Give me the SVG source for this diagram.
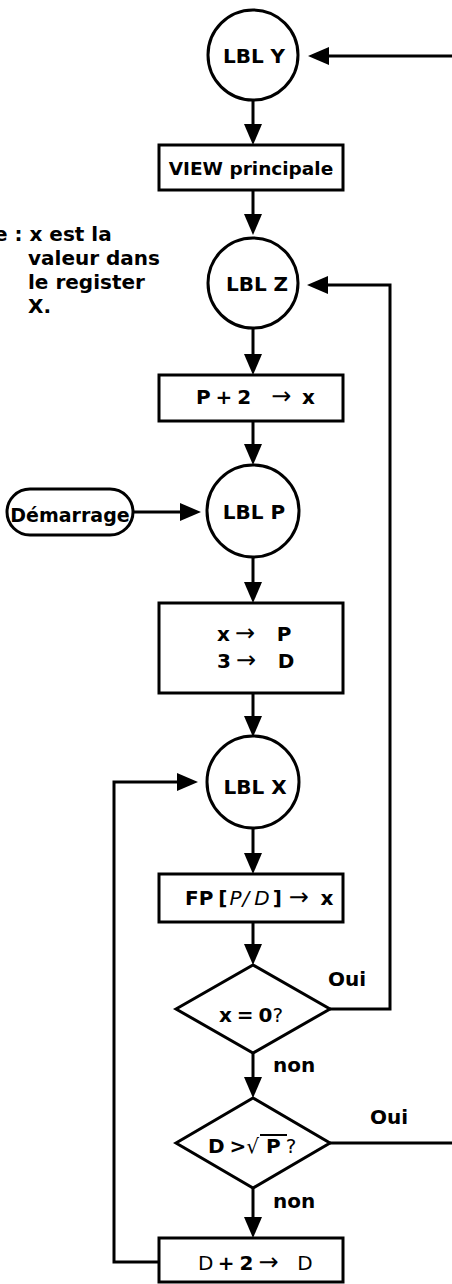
<svg xmlns="http://www.w3.org/2000/svg" width="452" height="1284" viewBox="0 0 452 1284">
<style>
.s{fill:#fff;stroke:#000;stroke-width:3}
.c{fill:none;stroke:#000;stroke-width:3}
text{font-family:"DejaVu Sans",sans-serif;font-weight:bold;font-size:20px;fill:#000}
.lbl{text-anchor:middle}
.mid{text-anchor:middle}
.ws{word-spacing:-2px}
.n{font-weight:normal}
.ar{font-weight:normal;font-size:24px}
.it{font-style:italic;font-weight:normal}
</style>
<defs>
<marker id="ah" markerUnits="userSpaceOnUse" markerWidth="21" markerHeight="18" refX="8" refY="9" orient="auto">
<path d="M0,0 L21,9 L0,18 z" fill="#000"/>
</marker>
</defs>
<rect width="452" height="1284" fill="#fff"/>
<g id="note">
<text><tspan x="-6" y="241">e : x est la</tspan><tspan x="28" y="265">valeur dans</tspan><tspan x="28" y="289">le register</tspan><tspan x="28" y="313">X.</tspan></text>
</g>
<g id="connectors">
<path class="c" d="M452,56 H321" marker-end="url(#ah)"/>
<path class="c" d="M253,100 V132" marker-end="url(#ah)"/>
<path class="c" d="M253,190 V222" marker-end="url(#ah)"/>
<path class="c" d="M253,328 V362" marker-end="url(#ah)"/>
<path class="c" d="M253,421 V452" marker-end="url(#ah)"/>
<path class="c" d="M133,512 H188" marker-end="url(#ah)"/>
<path class="c" d="M253,557 V590" marker-end="url(#ah)"/>
<path class="c" d="M253,693 V724" marker-end="url(#ah)"/>
<path class="c" d="M253,828 V861" marker-end="url(#ah)"/>
<path class="c" d="M253,922 V952" marker-end="url(#ah)"/>
<path class="c" d="M253,1053 V1085" marker-end="url(#ah)"/>
<path class="c" d="M253,1188 V1225" marker-end="url(#ah)"/>
<path class="c" d="M159,1262 H114 V782 H185" marker-end="url(#ah)"/>
<path class="c" d="M330,1009 H390 V285 H320" marker-end="url(#ah)"/>
<path class="c" d="M330,1143 H452"/>
<text x="328" y="986">Oui</text>
<text x="273" y="1072">non</text>
<text x="370" y="1124">Oui</text>
<text x="273" y="1208">non</text>
</g>
<g id="lblY">
<circle class="s" cx="253" cy="55" r="45"/>
<text class="lbl" x="254" y="63">LBL Y</text>
</g>
<g id="view">
<rect class="s" x="159" y="145" width="184" height="45"/>
<text class="mid" x="251" y="175" style="font-size:18.5px">VIEW principale</text>
</g>
<g id="lblZ">
<circle class="s" cx="253" cy="283" r="45"/>
<text class="lbl" x="257" y="291">LBL Z</text>
</g>
<g id="p2x">
<rect class="s" x="159" y="375" width="184" height="46"/>
<text class="ws" x="196" y="404">P + 2 <tspan class="ar" dx="15">→ </tspan><tspan dx="5">x</tspan></text>
</g>
<g id="demarrage">
<rect class="s" x="7" y="489" width="126" height="46" rx="23"/>
<text class="mid" x="70" y="522" style="font-size:19px">Démarrage</text>
</g>
<g id="lblP">
<circle class="s" cx="253" cy="511" r="46"/>
<text class="lbl" x="254" y="519">LBL P</text>
</g>
<g id="assign">
<rect class="s" x="159" y="603" width="184" height="90"/>
<text class="ws" x="217" y="641">x <tspan class="ar">→ </tspan><tspan dx="16">P</tspan></text>
<text class="ws" x="217" y="668">3 <tspan class="ar">→ </tspan><tspan dx="16">D</tspan></text>
</g>
<g id="lblX">
<circle class="s" cx="253" cy="782" r="46"/>
<text class="lbl" x="255" y="794">LBL X</text>
</g>
<g id="fp">
<rect class="s" x="159" y="874" width="184" height="48"/>
<text class="ws" x="185" y="905">FP [<tspan class="it" dx="2">P</tspan><tspan class="it" dx="1">/</tspan><tspan class="it" dx="5">D</tspan><tspan dx="3">] </tspan><tspan class="ar" dx="2">→ </tspan><tspan dx="6">x</tspan></text>
</g>
<g id="dec1">
<polygon class="s" points="176,1009 253,965 330,1009 253,1053"/>
<text class="ws" x="219" y="1022">x = 0<tspan class="n">?</tspan></text>
</g>
<g id="dec2">
<polygon class="s" points="176,1143 253,1098 330,1143 253,1188"/>
<text class="ws" x="208" y="1153">D &gt;<tspan class="n">√</tspan><tspan dx="7">P </tspan><tspan class="n">?</tspan></text>
<line x1="260" y1="1135" x2="287" y2="1135" stroke="#000" stroke-width="2"/>
</g>
<g id="inc">
<rect class="s" x="159" y="1238" width="184" height="44"/>
<text class="ws" x="198" y="1270"><tspan class="n">D </tspan>+ 2 <tspan class="ar">→ </tspan><tspan class="n" dx="13">D</tspan></text>
</g>
</svg>
